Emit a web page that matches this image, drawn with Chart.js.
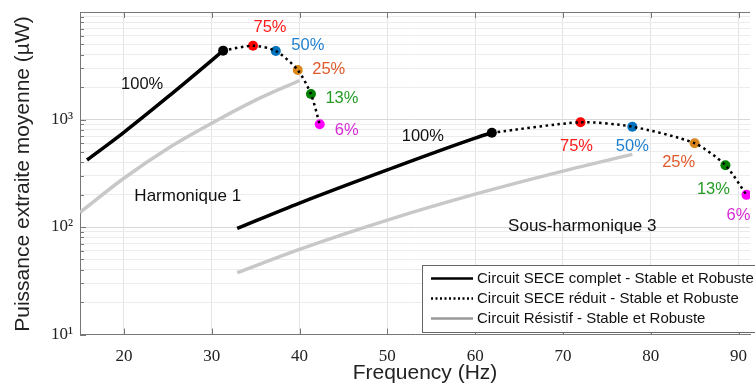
<!DOCTYPE html>
<html>
<head>
<meta charset="utf-8">
<script src="https://cdn.jsdelivr.net/npm/chart.js@4.4.0/dist/chart.umd.min.js"></script>
<style>
  html, body { margin: 0; padding: 0; background: #fff; }
  #graficaPuissance { display: block; }
</style>
</head>
<body>
<canvas id="graficaPuissance" width="755" height="385"></canvas>
<script>
// --- datos ---
var xTicks = [20, 30, 40, 50, 60, 70, 80, 90];
var yMajor = [10, 100, 1000, 10000];
var yLabels = {10: '10\u00b9', 100: '10\u00b2', 1000: '10\u00b3'};

// Harmonique 1
var h1FreqComplet = [15.8, 20, 25, 30, 31.3];
var h1Complet = [420, 760, 1620, 3550, 4370];
var h1FreqReduit = [31.3, 34.7, 37.3, 39.8, 41.3, 42.3];
var h1Reduit = [4370, 4860, 4340, 2885, 1725, 902];
var h1FreqResistif = [15, 20, 25, 30, 35, 40];
var h1Resistif = [137, 284, 537, 923, 1514, 2307];

// Sous-harmonique 3
var sh3FreqComplet = [32.9, 40, 50, 60, 61.9];
var sh3Complet = [97, 167, 340, 671, 753];
var sh3FreqReduit = [61.9, 72, 77.9, 85, 88.5, 90.9];
var sh3Reduit = [753, 942, 857, 601, 375, 199];
var sh3FreqResistif = [32.9, 40, 50, 60, 70, 77.9];
var sh3Resistif = [37.6, 62, 116, 202, 331, 474];

var pctLabels = ['100%', '75%', '50%', '25%', '13%', '6%'];
var pctColors = ['#000000', '#ff0000', '#0072bd', '#d9861c', '#008000', '#ff00ff'];
var pctTextColors = ['#111111', '#ff1a1a', '#1f7fd0', '#e0592a', '#259b25', '#d42ad4'];

var legendLabels = [
  'Circuit SECE complet - Stable et Robuste',
  'Circuit SECE r\u00e9duit - Stable et Robuste',
  'Circuit R\u00e9sistif - Stable et Robuste'
];

// --- posiciones de los textos (px respecto al punto) ---
var h1Offsets = [[-81, 34], [17, -18], [32, -6], [31, -1], [31, 4], [27, 6]];
var sh3Offsets = [[-69, 4], [-4, 24], [0, 20], [-16, 19], [-12, 24], [-8, 21]];
var nomSeries = [
  {text: 'Harmonique 1', x: 27.27, y: 194},
  {text: 'Sous-harmonique 3', x: 72.2, y: 102}
];

function pts(xs, ys) {
  return xs.map(function(x, i) { return {x: x, y: ys[i]}; });
}

var gris = '#c8c8c8';

function ligne(label, xs, ys, color, width, dash, order) {
  return {
    label: label,
    data: pts(xs, ys),
    borderColor: color,
    backgroundColor: color,
    borderWidth: width,
    borderDash: dash,
    pointRadius: 0,
    cubicInterpolationMode: dash.length ? 'default' : 'monotone',
    tension: dash.length ? 0.25 : 0.4,
    fill: false,
    order: order
  };
}

function marqueurs(xs, ys) {
  return {
    label: 'marqueurs',
    data: pts(xs, ys),
    showLine: false,
    pointRadius: 5,
    pointHoverRadius: 5,
    pointBorderWidth: 0,
    pointBackgroundColor: pctColors,
    pointBorderColor: pctColors,
    order: 1
  };
}

var annotations = {
  id: 'annotations',
  afterDatasetsDraw: function(chart) {
    var ctx = chart.ctx;
    var xs = chart.scales.x, ys = chart.scales.y;
    ctx.save();
    ctx.textAlign = 'center';
    ctx.textBaseline = 'middle';
    ctx.font = '16.5px "Liberation Sans", Arial, sans-serif';
    [[h1FreqReduit, h1Reduit, h1Offsets], [sh3FreqReduit, sh3Reduit, sh3Offsets]].forEach(function(s) {
      s[0].forEach(function(f, i) {
        var px = xs.getPixelForValue(f) + s[2][i][0];
        var py = ys.getPixelForValue(s[1][i]) + s[2][i][1];
        ctx.fillStyle = pctTextColors[i];
        ctx.fillText(pctLabels[i], px, py);
      });
    });
    ctx.font = '17px "Liberation Sans", Arial, sans-serif';
    ctx.fillStyle = '#111';
    nomSeries.forEach(function(n) {
      ctx.fillText(n.text, xs.getPixelForValue(n.x), ys.getPixelForValue(n.y));
    });
    ctx.restore();
  },
  afterDraw: function(chart) {
    var ctx = chart.ctx;
    var a = chart.chartArea;
    var xs = chart.scales.x, ys = chart.scales.y;
    ctx.save();
    // cadre haut + graduations interieures
    ctx.strokeStyle = '#777';
    ctx.lineWidth = 1;
    ctx.beginPath();
    ctx.moveTo(a.left, a.top + 0.5);
    ctx.lineTo(a.right, a.top + 0.5);
    xTicks.forEach(function(v) {
      var p = Math.round(xs.getPixelForValue(v)) + 0.5;
      ctx.moveTo(p, a.bottom); ctx.lineTo(p, a.bottom - 6);
      ctx.moveTo(p, a.top); ctx.lineTo(p, a.top + 6);
    });
    ys.ticks.forEach(function(t) {
      var p = Math.round(ys.getPixelForValue(t.value)) + 0.5;
      var l = yMajor.indexOf(t.value) >= 0 ? 6 : 4;
      ctx.moveTo(a.left, p); ctx.lineTo(a.left + l, p);
    });
    ctx.stroke();

    // legende
    var lx = 422.5, ly = 265.5;
    ctx.fillStyle = '#fff';
    ctx.fillRect(lx, ly, 340, 67);
    ctx.strokeStyle = '#666';
    ctx.strokeRect(lx, ly, 340, 67);
    var styles = [
      {c: '#000', w: 2.5, d: []},
      {c: '#000', w: 2.5, d: [2, 2.5]},
      {c: '#999', w: 2.5, d: []}
    ];
    ctx.font = '15px "Liberation Sans", Arial, sans-serif';
    ctx.textAlign = 'left';
    ctx.textBaseline = 'middle';
    legendLabels.forEach(function(lab, i) {
      var y = 278.5 + i * 20;
      ctx.strokeStyle = styles[i].c;
      ctx.lineWidth = styles[i].w;
      ctx.setLineDash(styles[i].d);
      ctx.beginPath();
      ctx.moveTo(431, y); ctx.lineTo(473, y);
      ctx.stroke();
      ctx.setLineDash([]);
      ctx.fillStyle = '#111';
      ctx.fillText(lab, 477, y + 0.5);
    });

    // titres des axes
    ctx.fillStyle = '#222';
    ctx.font = '21px "Liberation Sans", Arial, sans-serif';
    ctx.textAlign = 'center';
    ctx.fillText('Frequency (Hz)', 425, 373);
    ctx.translate(23, 174);
    ctx.rotate(-Math.PI / 2);
    ctx.fillText('Puissance extraite moyenne (\u00b5W)', 0, 0);
    ctx.restore();
  }
};

var popCanvas = document.getElementById('graficaPuissance').getContext('2d');
var grafica = new Chart(popCanvas, {
  type: 'line',
  data: {
    datasets: [
      ligne(legendLabels[0], h1FreqComplet, h1Complet, '#000', 3.5, [], 3),
      ligne(legendLabels[1], h1FreqReduit, h1Reduit, '#000', 2.5, [2.5, 3.5], 0),
      ligne(legendLabels[2], h1FreqResistif, h1Resistif, gris, 3.5, [], 4),
      marqueurs(h1FreqReduit, h1Reduit),
      ligne(legendLabels[0], sh3FreqComplet, sh3Complet, '#000', 3.5, [], 3),
      ligne(legendLabels[1], sh3FreqReduit, sh3Reduit, '#000', 2.5, [2.5, 3.5], 0),
      ligne(legendLabels[2], sh3FreqResistif, sh3Resistif, gris, 3.5, [], 4),
      marqueurs(sh3FreqReduit, sh3Reduit)
    ]
  },
  options: {
    responsive: false,
    animation: false,
    devicePixelRatio: 1,
    layout: { padding: { top: 12, right: 0, left: 0, bottom: 0 } },
    plugins: { legend: { display: false }, tooltip: { enabled: false } },
    scales: {
      x: {
        type: 'linear',
        min: 15,
        max: 91.3,
        afterBuildTicks: function(scale) {
          scale.ticks = xTicks.map(function(v) { return {value: v}; });
        },
        afterFit: function(scale) {
          scale.height = 50.5;
          scale.paddingLeft = 0;
          scale.paddingRight = 0;
        },
        grid: { color: '#e4e4e4', lineWidth: 1, drawTicks: false },
        border: { color: '#777', width: 1 },
        ticks: {
          padding: 12,
          color: '#222',
          font: { family: '"Liberation Serif", "DejaVu Serif", serif', size: 17 },
          maxRotation: 0
        }
      },
      y: {
        type: 'logarithmic',
        min: 10,
        max: 10000,
        afterBuildTicks: function(scale) {
          var t = [];
          [10, 100, 1000].forEach(function(d) {
            for (var k = 1; k <= 9; k++) t.push({value: d * k, major: k === 1});
          });
          t.push({value: 10000, major: true});
          scale.ticks = t;
        },
        afterFit: function(scale) {
          scale.width = 80;
          scale.paddingTop = 0;
          scale.paddingBottom = 0;
        },
        grid: {
          drawTicks: false,
          lineWidth: 1,
          color: function(c) {
            return yMajor.indexOf(c.tick && c.tick.value) >= 0 ? '#d8d8d8' : '#ececec';
          }
        },
        border: { color: '#777', width: 1 },
        ticks: {
          padding: 7,
          color: '#222',
          font: { family: '"Liberation Serif", "DejaVu Serif", serif', size: 17 },
          autoSkip: false,
          callback: function(v) { return yLabels[v] || ''; }
        }
      }
    }
  },
  plugins: [annotations]
});
</script>
</body>
</html>
